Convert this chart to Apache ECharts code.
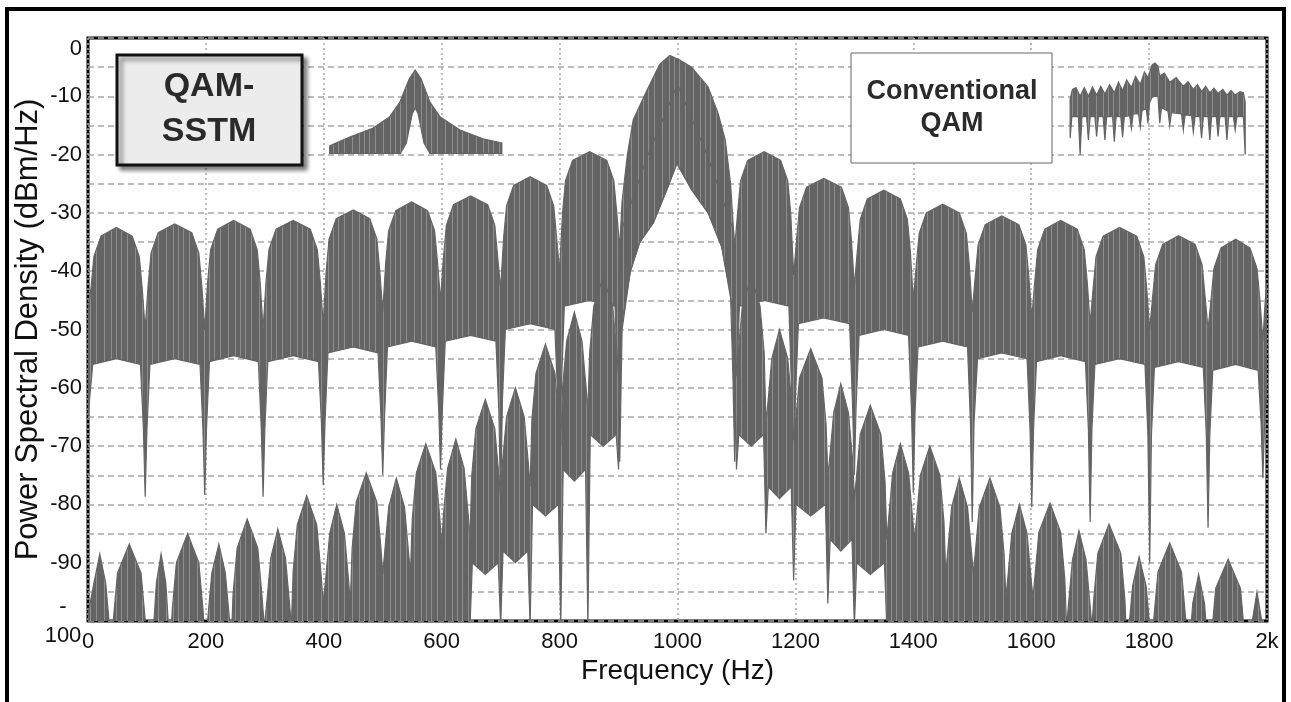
<!DOCTYPE html>
<html>
<head>
<meta charset="utf-8">
<script src="https://cdn.jsdelivr.net/npm/echarts@6/dist/echarts.min.js"></script>
<style>
  html, body { margin: 0; padding: 0; background: #fff; }
  #chart { width: 1291px; height: 702px; }
</style>
</head>
<body>
<div id="chart"></div>
<script>
// Conventional QAM: upper / lower outline of the dense trace, [Hz, dBm/Hz]
const convHi = [
  [0,-47],[5,-43],[10,-37.5],[22,-34],[48,-32.5],[75,-34],[87,-37.5],[92,-43],[97,-50],
  [102,-42.4],[107,-36.9],[119,-33.4],[147,-31.9],[176,-33.4],[188,-36.9],[193,-42.4],[198,-50],
  [203,-41.8],[208,-36.3],[220,-32.8],[247,-31.3],[275,-32.8],[287,-36.3],[292,-41.8],[297,-50],
  [302,-41.8],[307,-36.3],[319,-32.8],[348,-31.3],[377,-32.8],[389,-36.3],[394,-41.8],[399,-49],
  [404,-40],[409,-34.5],[421,-31],[450,-29.5],[478,-31],[490,-34.5],[495,-40],[500,-47],
  [505,-38.6],[510,-33.1],[522,-29.6],[549,-28.1],[576,-29.6],[588,-33.1],[593,-38.6],[598,-45],
  [603,-37.6],[608,-32.1],[620,-28.6],[649,-27.1],[678,-28.6],[690,-32.1],[695,-37.6],[700,-43],
  [705,-34.3],[710,-28.8],[722,-25.3],[750,-23.8],[778,-25.3],[790,-28.8],[795,-34.3],[800,-40],
  [805,-30],[810,-24.5],[822,-21],[851,-19.5],[880,-21],[892,-24.5],[897,-30],[902,-36],
  [906,-28],[915,-20],[925,-14],[948,-9],[970,-4.5],[987,-3],[1004,-3.8],
  [1024,-5],[1052,-8.4],[1069,-13],[1081,-17.5],[1090,-25],[1097,-36],
  [1102,-30],[1107,-24.5],[1119,-21],[1147,-19.5],[1175,-21],[1187,-24.5],[1192,-30],[1197,-40.6],
  [1202,-34.6],[1207,-29.1],[1219,-25.6],[1248,-24.1],[1278,-25.6],[1290,-29.1],[1295,-34.6],[1300,-42.6],
  [1305,-36.6],[1310,-31.1],[1322,-27.6],[1350,-26.1],[1378,-27.6],[1390,-31.1],[1395,-36.6],[1400,-45],
  [1405,-39],[1410,-33.5],[1422,-30],[1450,-28.5],[1478,-30],[1490,-33.5],[1495,-39],[1500,-47],
  [1505,-41],[1510,-35.5],[1522,-32],[1550,-30.5],[1579,-32],[1591,-35.5],[1596,-41],[1601,-48],
  [1606,-41.8],[1611,-36.3],[1623,-32.8],[1650,-31.3],[1678,-32.8],[1690,-36.3],[1695,-41.8],[1700,-49],
  [1705,-43],[1710,-37.5],[1722,-34],[1750,-32.5],[1779,-34],[1791,-37.5],[1796,-43],[1801,-50],
  [1806,-44.4],[1811,-38.9],[1823,-35.4],[1850,-33.9],[1878,-35.4],[1890,-38.9],[1895,-44.4],[1900,-50],
  [1905,-45],[1910,-39.5],[1922,-36],[1947,-34.5],[1971,-36],[1983,-39.5],[1988,-45],[1993,-52],
  [1997,-45],[2000,-42]
];
const convLo = [
  [0,-65],[8,-56],[48,-55],[89,-56],[94,-67],[97,-78.7],[100,-67],
  [105,-56],[147,-55],[190,-56],[195,-67],[198,-78.4],[201,-67],
  [206,-55.5],[247,-54.5],[289,-55.5],[294,-67],[297,-78.7],[300,-67],
  [305,-55.5],[348,-54.5],[391,-55.5],[396,-66],[399,-76.7],[402,-66],
  [407,-54],[450,-53],[492,-54],[497,-65],[500,-75],[503,-65],
  [508,-53],[549,-52],[590,-53],[595,-64],[598,-74],[601,-64],
  [606,-52],[649,-51],[692,-52],[697,-64],[700,-80],[703,-62],
  [708,-50],[750,-49],[792,-50],[797,-62],[800,-75],[803,-60],
  [808,-46],[851,-45],[894,-46],[899,-60],[902,-72.7],
  [906,-50],[920,-40],[936,-35],[959,-31.7],[982,-26],[999,-21.5],
  [1024,-26],[1052,-30],[1075,-35.8],[1090,-44],[1094,-58],[1097,-72.7],[1100,-60],
  [1105,-46],[1147,-45],[1189,-46],[1194,-62],[1197,-80],[1200,-62],
  [1205,-49],[1248,-48],[1292,-49],[1297,-63],[1300,-75],[1303,-63],
  [1308,-51],[1350,-50],[1392,-51],[1397,-64],[1400,-78],[1403,-64],
  [1408,-53],[1450,-52],[1492,-53],[1497,-66],[1500,-83],[1503,-66],
  [1509,-55],[1550,-54],[1593,-55],[1598,-67],[1601,-80.5],[1604,-67],
  [1609,-55.5],[1650,-54.5],[1692,-55.5],[1697,-67],[1700,-83],[1703,-67],
  [1708,-56],[1750,-55],[1793,-56],[1798,-68],[1801,-90],[1804,-68],
  [1809,-56.5],[1850,-55.5],[1892,-56.5],[1897,-68],[1900,-84],[1903,-68],
  [1908,-57],[1947,-56],[1985,-57],[1990,-66],[1993,-75.5],[1996,-66],[2000,-60]
];

// QAM-SSTM: upper / lower outline
const sstmHi = [
  [0,-99],[10,-93.5],[20,-88.5],[30,-93.5],[37,-101.5],[40,-104],
  [43,-99.8],[50,-91.8],[70,-86.8],[90,-91.8],[97,-99.8],[104,-104],
  [111,-101.5],[116,-93.5],[124,-88.5],[132,-93.5],[137,-101.5],[140,-104],
  [143,-98],[150,-90],[169,-85],[188,-90],[195,-98],[199,-104],
  [203,-99.8],[210,-91.8],[222,-86.8],[233,-91.8],[240,-99.8],[243,-104],
  [246,-95.5],[253,-87.5],[270,-82.5],[288,-87.5],[295,-95.5],[299,-101],
  [303,-97.2],[310,-89.2],[322,-84.2],[335,-89.2],[342,-97.2],[345,-101],
  [348,-91.5],[355,-83.5],[371,-78.5],[388,-83.5],[395,-91.5],[399,-97],
  [403,-93],[410,-85],[422,-80],[435,-85],[442,-93],[445,-97],
  [448,-87.6],[455,-79.6],[472,-74.6],[490,-79.6],[497,-87.6],[500,-92],
  [503,-88.5],[510,-80.5],[523,-75.5],[537,-80.5],[544,-88.5],[547,-92],
  [550,-82.6],[557,-74.6],[573,-69.6],[590,-74.6],[597,-82.6],[600,-87],
  [603,-81.8],[610,-73.8],[624,-68.8],[638,-73.8],[645,-81.8],[648,-86],
  [651,-75],[658,-67],[674,-62],[690,-67],[697,-75],[700,-79],
  [703,-73],[710,-65],[725,-60],[740,-65],[747,-73],[750,-77],
  [753,-65.5],[760,-57.5],[776,-52.5],[792,-57.5],[799,-65.5],[802,-70],
  [805,-60],[812,-52],[825,-47],[838,-52],[845,-60],[848,-64],
  [851,-54],[858,-46],[874,-41],[890,-46],[897,-54],[900,-58],
  [905,-33],[950,-20],[1000,-8],[1050,-20],[1095,-33],[1100,-58],
  [1103,-54],[1110,-46],[1125,-41],[1140,-46],[1147,-54],[1150,-66],
  [1153,-63],[1160,-55],[1173,-50],[1187,-55],[1194,-63],[1197,-69],
  [1200,-66.3],[1207,-58.3],[1226,-53.3],[1245,-58.3],[1252,-66.3],[1255,-75],
  [1258,-72.3],[1265,-64.3],[1277,-59.3],[1290,-64.3],[1297,-72.3],[1300,-79],
  [1303,-76],[1310,-68],[1327,-63],[1345,-68],[1352,-76],[1355,-86],
  [1358,-82.6],[1365,-74.6],[1378,-69.6],[1392,-74.6],[1399,-82.6],[1402,-86],
  [1405,-83],[1412,-75],[1428,-70],[1445,-75],[1452,-83],[1455,-92],
  [1458,-88.5],[1465,-80.5],[1478,-75.5],[1492,-80.5],[1499,-88.5],[1502,-92],
  [1505,-88.5],[1512,-80.5],[1530,-75.5],[1547,-80.5],[1554,-88.5],[1557,-96],
  [1560,-93],[1567,-85],[1580,-80],[1593,-85],[1600,-93],[1603,-96],
  [1606,-92.8],[1613,-84.8],[1632,-79.8],[1650,-84.8],[1657,-92.8],[1660,-101],
  [1663,-97.5],[1670,-89.5],[1681,-84.5],[1693,-89.5],[1700,-97.5],[1703,-101],
  [1706,-96.4],[1713,-88.4],[1732,-83.4],[1752,-88.4],[1759,-96.4],[1762,-104],
  [1765,-102],[1772,-94],[1783,-89],[1795,-94],[1802,-102],[1805,-104],
  [1808,-99.6],[1815,-91.6],[1835,-86.6],[1855,-91.6],[1862,-99.6],[1865,-106],
  [1868,-105],[1874,-97],[1884,-92],[1894,-97],[1900,-105],[1903,-106],
  [1906,-102.4],[1913,-94.4],[1934,-89.4],[1955,-94.4],[1962,-102.4],[1965,-108],
  [1968,-108],[1975,-100],[1983,-95],[1991,-100],[1997,-108],[2000,-108]
];
const sstmLo = [
  [0,-101],[648,-101],
  [652,-90],[674,-92],[696,-90],[700,-101],[704,-88],[725,-90],[746,-88],[750,-101],
  [754,-80],[776,-82],[798,-80],[802,-101],[806,-74],[825,-76],[844,-74],[848,-101],
  [852,-68],[874,-70],[896,-68],[900,-74],
  [904,-50],[920,-40],[936,-35],[959,-31.7],[982,-26],[999,-21.5],
  [1024,-26],[1052,-30],[1075,-35.8],[1096,-48],[1100,-74],
  [1104,-68],[1125,-70],[1146,-68],[1150,-85],[1154,-77],[1173,-79],[1193,-77],[1197,-93],
  [1201,-80],[1226,-82],[1251,-80],[1255,-97],[1259,-86],[1277,-88],[1296,-86],[1300,-101],
  [1304,-90],[1327,-92],[1351,-90],[1355,-101],[2000,-101]
];

// small legend traces drawn inside the plot
const sstmInsetHi = [
  [410,-18.5],[444,-17],[483,-15.5],[512,-13.5],[529,-11],[545,-7],[555,-5.5],
  [565,-7],[580,-11],[597,-13.5],[631,-15.8],[670,-17.3],[702,-18]
];
const sstmInsetLo = [
  [410,-19.8],[530,-19.8],[540,-18],[550,-13],[555,-12],[560,-13],[570,-18],[580,-19.8],[702,-19.8]
];
const convInsetHi = [
  [1666,-10.5],[1670,-8.8],[1676,-8.5],[1683,-10],[1690,-8.5],[1697,-10],[1704,-8.4],[1711,-9.8],
  [1718,-8.3],[1725,-9.6],[1733,-8],[1741,-9.4],[1748,-7.6],[1755,-9],[1762,-7.2],[1770,-8.5],
  [1777,-6.6],[1785,-8],[1792,-5.8],[1798,-6.8],[1805,-4.6],[1810,-4.3],[1815,-4.8],[1818,-6.5],
  [1826,-6],[1835,-7.6],[1846,-6.8],[1858,-8.3],[1866,-7.5],[1875,-8.8],[1882,-8],[1889,-9.2],
  [1896,-8.3],[1903,-9.4],[1910,-8.6],[1917,-9.5],[1925,-8.8],[1932,-9.8],[1939,-9],[1946,-9.8],
  [1954,-9.2],[1960,-9.4],[1963,-11]
];
const convInsetLo = [
  [1666,-17.2],[1669,-13.5],[1680,-13.5],[1683,-20],[1686,-13.5],[1694,-13.5],[1697,-17.5],
  [1700,-13.5],[1708,-13.5],[1711,-16.9],[1714,-13.5],[1722,-13.5],[1725,-17.5],[1728,-13.5],
  [1738,-13.5],[1741,-17.8],[1744,-13.5],[1752,-13.5],[1755,-17],[1758,-13.5],[1767,-13.3],
  [1770,-15.5],[1773,-13],[1782,-13],[1785,-15.3],[1788,-12.5],[1795,-12],[1798,-14.6],
  [1801,-11],[1806,-10],[1815,-10],[1818,-14.6],[1821,-12],[1832,-12.5],[1835,-15],
  [1838,-12.8],[1855,-13],[1858,-15.8],[1861,-13.2],[1872,-13.3],[1875,-16.1],[1878,-13.4],
  [1886,-13.5],[1889,-17.2],[1892,-13.5],[1900,-13.5],[1903,-17.5],[1906,-13.5],[1914,-13.5],
  [1917,-16.9],[1920,-13.5],[1929,-13.5],[1932,-17.5],[1935,-13.5],[1943,-13.5],[1946,-15.8],
  [1949,-13.5],[1960,-13.5],[1963,-20]
];

const xTickLabels = { 2000: '2k' };
const FONT = "'Liberation Sans', Arial, sans-serif";
const TRACE = '#646464';

// fine vertical streaks so the filled traces read like a dense plotted signal
const streak = document.createElement('canvas');
streak.width = 31; streak.height = 2;
(function () {
  const ctx = streak.getContext('2d');
  ctx.fillStyle = TRACE;
  ctx.fillRect(0, 0, 31, 2);
  ctx.fillStyle = '#8e8e8e';
  [3, 11, 18, 23, 28].forEach((x) => ctx.fillRect(x, 0, 1, 2));
})();
const traceFill = { type: 'pattern', image: streak, repeat: 'repeat' };

function band(name, hi, lo) {
  const outline = hi.concat(lo.slice().reverse());
  return {
    type: 'custom',
    name,
    coordinateSystem: 'cartesian2d',
    clip: true,
    silent: true,
    animation: false,
    data: [[1000, -50]],
    encode: { x: 0, y: 1 },
    renderItem: (params, api) => ({
      type: 'polygon',
      shape: { points: outline.map((p) => api.coord(p)) },
      style: { fill: traceFill, stroke: TRACE, lineWidth: 1.2 }
    })
  };
}

const chart = echarts.init(document.getElementById('chart'));
chart.setOption({
  backgroundColor: '#fff',
  animation: false,
  grid: {
    left: 88, right: 24, top: 38, bottom: 81,
    show: true, borderColor: '#000', borderWidth: 3,
    outerBoundsMode: 'none'
  },
  xAxis: {
    type: 'value', min: 0, max: 2000, interval: 200,
    name: 'Frequency (Hz)', nameLocation: 'middle', nameGap: 36, nameMoveOverlap: false,
    nameTextStyle: { fontSize: 28, color: '#111', fontFamily: FONT },
    axisLine: { show: false }, axisTick: { show: false },
    axisLabel: {
      fontSize: 22, color: '#111', fontFamily: FONT, margin: 10,
      formatter: (v) => xTickLabels[v] || String(v)
    },
    splitLine: { show: true, lineStyle: { color: '#a8a8a8', width: 1.5, type: [2, 3] } }
  },
  yAxis: {
    type: 'value', min: -100, max: 0, interval: 5,
    name: 'Power Spectral Density (dBm/Hz)', nameLocation: 'middle', nameGap: 44, nameMoveOverlap: false,
    nameTextStyle: { fontSize: 31, color: '#111', fontFamily: FONT },
    axisLine: { show: false }, axisTick: { show: false },
    axisLabel: {
      fontSize: 22, color: '#111', fontFamily: FONT, margin: 6,
      verticalAlignMaxLabel: 'top',
      formatter: (v) => {
        if (v % 10 !== 0) return '';
        if (v === -100) return '{c|-}\n{c|100}';
        return String(v);
      },
      rich: { c: { fontSize: 22, color: '#111', fontFamily: FONT, width: 38, align: 'center', lineHeight: 29 } }
    },
    splitLine: { show: true, lineStyle: { color: '#a8a8a8', width: 1.5, type: [6, 4] } }
  },
  series: [
    band('Conventional QAM', convHi, convLo),
    band('QAM-SSTM', sstmHi, sstmLo),
    band('QAM-SSTM legend', sstmInsetHi, sstmInsetLo),
    band('Conventional QAM legend', convInsetHi, convInsetLo)
  ],
  graphic: [
    {
      type: 'rect', z: 100, silent: true,
      shape: { x: 7, y: 9, width: 1277, height: 705 },
      style: { fill: 'none', stroke: '#000', lineWidth: 4 }
    },
    {
      type: 'rect', z: 100, silent: true,
      shape: { x: 117, y: 55, width: 185, height: 110 },
      style: {
        fill: '#ececec', stroke: '#111', lineWidth: 3,
        shadowBlur: 4, shadowOffsetX: 4, shadowOffsetY: 4, shadowColor: 'rgba(0,0,0,0.45)'
      }
    },
    {
      type: 'text', z: 101, silent: true, x: 209, y: 109,
      style: {
        text: 'QAM-\nSSTM', fill: '#2a2a2a', font: 'bold 34px ' + FONT,
        align: 'center', verticalAlign: 'middle', lineHeight: 45
      }
    },
    {
      type: 'rect', z: 100, silent: true,
      shape: { x: 851, y: 53, width: 201, height: 110 },
      style: { fill: '#fff', stroke: '#666', lineWidth: 1 }
    },
    {
      type: 'text', z: 101, silent: true, x: 952, y: 108,
      style: {
        text: 'Conventional\nQAM', fill: '#2a2a2a', font: 'bold 27px ' + FONT,
        align: 'center', verticalAlign: 'middle', lineHeight: 32
      }
    }
  ]
});
</script>
</body>
</html>
